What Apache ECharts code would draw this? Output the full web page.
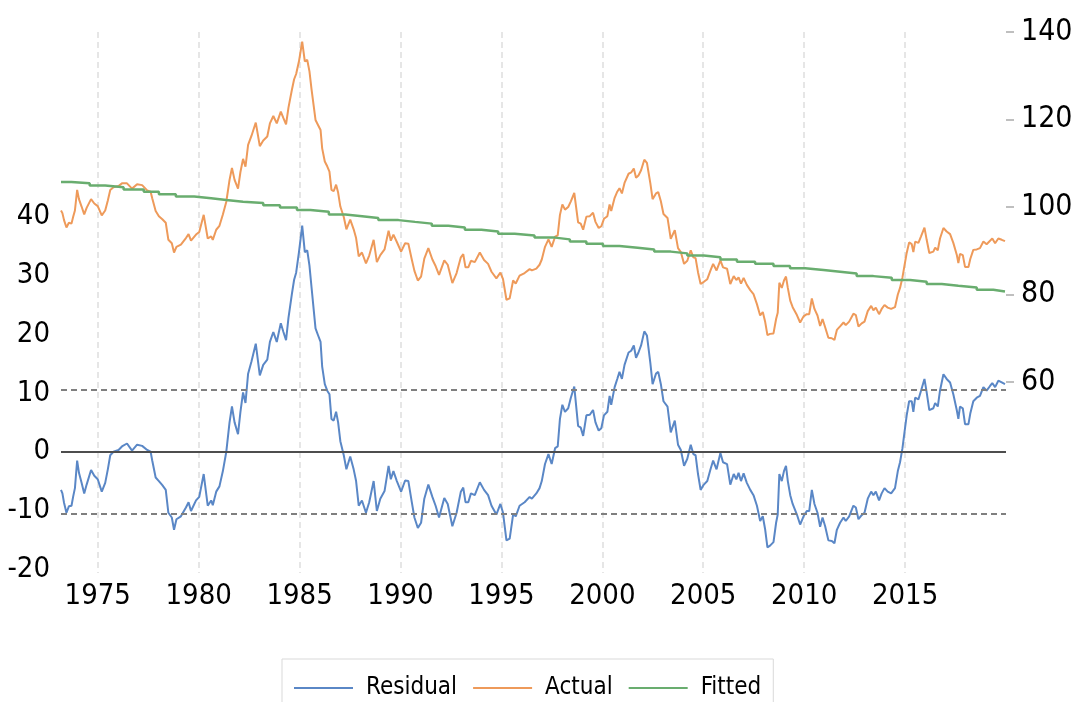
<!DOCTYPE html>
<html>
<head>
<meta charset="utf-8">
<script src="https://cdn.jsdelivr.net/npm/echarts@6/dist/echarts.min.js"></script>
<style>
  html, body { margin: 0; padding: 0; background: #fff; }
  #main { width: 1071px; height: 702px; }
</style>
</head>
<body>
<div id="main"></div>
<script>
// dates in decimal years, shared by Residual and Actual
var dates = [
  1973.18,1973.25,1973.33,1973.45,1973.57,1973.70,1973.78,1973.87,1973.98,1974.07,1974.20,1974.33,1974.45,1974.67,1974.83,
  1975.00,1975.20,1975.37,1975.50,1975.62,1975.78,1976.03,1976.20,1976.45,1976.70,1976.95,1977.20,1977.45,1977.62,1977.70,1977.87,
  1978.03,1978.20,1978.37,1978.50,1978.67,1978.78,1978.90,1979.12,1979.37,1979.50,1979.62,1979.87,
  1980.03,1980.25,1980.45,1980.62,1980.70,1980.87,1981.03,1981.20,1981.37,1981.53,1981.65,1981.78,1981.95,
  1982.07,1982.20,1982.32,1982.45,1982.62,1982.83,1983.03,1983.20,1983.40,1983.53,1983.70,1983.87,
  1984.07,1984.20,1984.33,1984.45,1984.62,1984.73,1984.83,1984.97,
  1985.13,1985.26,1985.38,1985.49,1985.59,1985.67,1985.79,1985.92,1986.04,1986.12,1986.25,1986.37,1986.48,1986.58,1986.69,1986.81,1986.91,
  1987.02,1987.19,1987.32,1987.51,1987.68,1987.80,1987.93,1988.09,1988.29,1988.45,1988.67,1988.83,
  1989.00,1989.21,1989.41,1989.52,1989.65,1989.82,1990.03,1990.23,1990.39,1990.56,1990.69,1990.86,
  1991.02,1991.18,1991.38,1991.58,1991.74,1991.91,1992.17,1992.34,1992.57,1992.78,1992.99,
  1993.11,1993.22,1993.36,1993.49,1993.68,1993.93,1994.14,1994.34,1994.51,1994.75,1994.95,
  1995.08,1995.25,1995.41,1995.58,1995.71,1995.90,1996.15,1996.40,1996.51,1996.73,1996.89,
  1997.00,1997.16,1997.33,1997.49,1997.66,1997.79,1997.90,1998.02,1998.15,1998.31,1998.44,1998.61,1998.80,1998.93,
  1999.05,1999.21,1999.38,1999.54,1999.66,1999.82,1999.95,2000.08,2000.25,2000.36,2000.44,2000.61,2000.74,2000.85,2000.97,
  2001.10,2001.30,2001.43,2001.56,2001.67,2001.79,2001.92,2002.08,2002.21,2002.38,2002.49,2002.66,2002.77,2002.90,
  2003.03,2003.23,2003.39,2003.59,2003.75,2003.89,2004.05,2004.21,2004.38,2004.51,2004.62,2004.74,2004.87,
  2005.03,2005.20,2005.36,2005.49,2005.66,2005.85,2005.98,2006.18,2006.34,2006.51,2006.64,2006.75,2006.87,
  2007.00,2007.16,2007.33,2007.49,2007.66,2007.82,2007.95,2008.07,2008.18,2008.31,2008.48,2008.61,2008.69,2008.77,2008.89,
  2009.00,2009.10,2009.19,2009.31,2009.43,2009.64,2009.80,2009.97,2010.13,2010.25,2010.38,2010.51,2010.66,2010.79,2010.91,
  2011.04,2011.20,2011.37,2011.50,2011.62,2011.78,2011.95,2012.06,2012.23,2012.44,2012.56,2012.69,2012.85,2012.99,
  2013.15,2013.32,2013.43,2013.55,2013.71,2013.84,2013.98,2014.14,2014.31,2014.50,2014.64,2014.75,2014.87,2014.97,
  2015.08,2015.20,2015.33,2015.41,2015.50,2015.66,2015.79,2015.96,2016.07,2016.20,2016.40,2016.49,2016.62,2016.73,2016.90,
  2017.06,2017.23,2017.39,2017.56,2017.64,2017.72,2017.86,2017.97,2018.14,2018.23,2018.38,2018.55,2018.71,2018.88,
  2019.04,2019.21,2019.32,2019.46,2019.62,2019.79,2019.95
];

var residual = [
  -6.5,-7.1,-8.7,-10.4,-9.3,-9.2,-7.7,-6.2,-1.5,-3.6,-5.3,-7.1,-5.6,-3.1,-4.1,
  -4.7,-6.8,-5.3,-3.0,-0.6,0.0,0.3,0.9,1.4,0.2,1.2,1.0,0.3,0.0,-1.5,-4.4,
  -5.0,-5.7,-6.5,-10.4,-11.2,-13.3,-11.5,-11.0,-9.5,-8.6,-10.1,-8.3,
  -7.7,-3.8,-9.2,-8.3,-9.1,-6.8,-5.9,-3.3,0.0,5.0,7.7,5.0,3.0,
  6.8,10.1,8.3,13.3,15.4,18.4,13.0,14.8,15.7,18.7,20.4,18.7,
  21.9,20.4,19.0,22.8,26.9,29.3,30.5,34.0,
  38.5,34.0,34.3,31.7,28.1,28.4,21.0,19.8,18.7,14.5,11.5,10.4,9.8,5.6,5.3,6.8,5.0,
  1.8,-0.6,-3.0,-0.8,-3.0,-5.0,-9.2,-8.3,-10.4,-8.6,-5.0,-10.1,
  -8.0,-6.7,-2.4,-4.7,-3.3,-5.0,-6.8,-4.9,-5.0,-8.6,-11.2,-13.0,
  -12.1,-8.0,-5.6,-7.7,-9.2,-11.2,-7.9,-8.9,-12.7,-10.4,-6.8,
  -6.1,-8.6,-8.6,-7.1,-7.4,-5.2,-6.5,-7.4,-9.2,-10.7,-8.9,
  -10.4,-15.1,-14.8,-10.7,-11.0,-9.2,-8.6,-7.7,-8.0,-7.1,-6.2,
  -5.0,-2.1,-0.4,-2.1,0.6,0.9,5.6,8.0,6.8,7.4,9.2,11.1,4.4,4.1,
  2.7,6.2,6.3,7.1,5.0,3.6,4.0,6.2,6.8,9.5,8.0,11.0,12.4,13.6,12.4,
  14.8,16.9,17.2,18.1,16.0,16.9,18.1,20.5,19.8,15.1,11.5,13.3,13.6,11.5,
  8.6,7.7,3.3,5.3,1.2,0.3,-2.4,-1.2,1.2,-0.4,-0.6,-3.8,-6.5,
  -5.6,-5.0,-3.0,-1.5,-3.0,-0.2,-1.8,-2.1,-5.6,-3.8,-4.7,-3.6,-5.0,
  -3.7,-5.3,-6.5,-7.4,-9.2,-11.8,-11.0,-13.3,-16.3,-16.0,-15.4,-12.1,-10.7,-3.8,-5.0,
  -3.3,-2.4,-5.0,-7.4,-8.9,-10.7,-12.4,-11.0,-10.1,-10.1,-6.5,-8.9,-10.4,-12.8,-11.2,
  -12.7,-15.1,-15.2,-15.6,-13.3,-12.1,-11.2,-11.8,-11.0,-9.2,-9.5,-11.5,-10.8,-10.4,
  -8.0,-6.8,-7.4,-6.8,-8.3,-7.1,-6.2,-6.8,-7.1,-6.2,-3.3,-1.8,0.6,3.3,
  6.2,8.6,8.6,6.8,9.2,8.9,10.4,12.4,10.1,7.1,7.4,8.3,7.7,10.4,13.2,
  12.4,11.8,9.8,7.1,5.6,7.7,7.4,4.7,4.7,6.5,8.6,9.2,9.5,11.0,
  10.4,11.2,11.7,11.0,12.1,11.8,11.5
];

var actual = [
  99.2,98.6,97.0,95.3,96.4,96.2,97.7,99.2,103.9,101.8,100.1,98.3,99.8,101.8,100.8,
  100.2,98.1,99.2,101.5,103.9,104.5,104.8,105.4,105.4,104.2,105.2,105.0,103.8,103.5,102.0,99.1,
  97.9,97.2,96.4,92.5,91.7,89.6,90.9,91.4,92.9,93.8,92.3,93.7,
  94.3,98.2,92.8,93.3,92.5,94.8,95.7,98.3,101.2,106.2,108.9,106.2,104.2,
  108.0,111.0,109.2,114.2,116.3,119.3,113.9,115.2,116.1,119.1,120.8,119.1,
  121.8,120.3,118.9,122.7,126.8,129.2,130.4,133.3,
  137.8,133.3,133.6,131.0,127.0,127.3,119.9,118.7,117.6,113.4,110.4,109.3,108.1,103.9,103.6,105.1,103.3,
  100.1,97.7,94.9,97.1,94.9,92.9,88.7,89.6,87.1,88.9,92.5,87.4,
  89.0,90.3,94.6,92.3,93.7,92.0,89.8,91.7,91.6,88.0,85.4,83.2,
  84.1,88.2,90.6,88.0,86.5,84.5,87.8,86.8,82.6,84.9,88.5,
  89.2,86.2,86.2,87.7,87.4,89.6,87.9,87.0,85.2,83.7,85.0,
  83.5,78.8,79.1,83.2,82.5,84.3,84.9,85.8,85.5,85.9,86.8,
  88.0,90.9,92.6,90.9,93.2,93.5,98.2,100.6,99.4,100.0,101.3,103.2,96.5,96.2,
  94.8,97.8,97.9,98.7,96.6,95.2,95.6,97.3,97.9,100.6,99.1,102.1,103.5,104.3,103.1,
  105.5,107.6,107.9,108.8,106.7,107.2,108.4,110.8,110.1,105.4,101.8,103.1,103.4,101.3,
  98.4,97.5,92.7,94.7,90.6,89.7,87.0,87.7,90.1,88.5,88.3,85.1,82.4,
  82.9,83.5,85.5,87.0,85.5,87.8,86.2,85.9,82.4,84.2,83.3,83.9,82.5,
  83.8,82.2,81.0,80.1,77.8,75.2,76.0,73.7,70.7,71.0,71.1,74.4,75.8,82.7,81.5,
  83.2,84.1,81.5,78.6,77.1,75.3,73.6,75.0,75.5,75.5,79.1,76.7,75.2,72.8,74.4,
  72.5,70.1,70.0,69.6,71.9,72.7,73.6,73.0,73.8,75.6,75.3,72.7,73.4,73.8,
  76.2,77.4,76.4,77.0,75.5,76.7,77.6,77.0,76.7,77.1,80.0,81.5,83.9,86.6,
  89.5,91.9,91.5,89.7,92.1,91.8,93.3,95.3,92.5,89.5,89.8,90.7,90.1,92.8,95.2,
  94.4,93.8,91.8,89.1,87.2,89.3,89.0,86.3,86.3,88.1,90.2,90.3,90.6,92.1,
  91.5,92.3,92.8,91.7,92.8,92.5,92.2
];

// fitted trend: value holds from each start date until the next one
var fitDates = [
  1973.18,1973.70,1974.60,1975.37,1976.28,1977.28,1978.03,1978.87,1979.78,1980.62,1981.37,1982.20,1983.20,1984.03,1984.87,
  1985.54,1986.45,1987.27,1988.10,1988.90,1989.90,1990.72,1991.55,1992.37,1993.19,1994.01,1994.84,1995.66,1996.64,
  1997.66,1998.39,1999.21,2000.03,2000.85,2001.75,2002.57,2003.39,2004.21,2005.03,2005.85,2006.67,2007.57,2008.48,
  2009.30,2010.05,2010.96,2011.78,2012.60,2013.43,2014.34,2015.25,2016.07,2016.82,2017.64,2018.55,2019.37,2019.95
];
var fitted = [
  105.7,105.4,104.9,104.5,104.0,103.5,102.9,102.4,102.0,101.6,101.2,100.9,100.4,99.9,99.3,
  98.9,98.3,97.9,97.5,97.0,96.6,96.2,95.7,95.3,94.8,94.4,93.9,93.5,93.0,
  92.6,92.1,91.6,91.1,90.7,90.3,89.8,89.4,88.9,88.5,88.0,87.5,87.0,86.5,
  86.0,85.6,85.2,84.8,84.2,83.8,83.3,82.9,82.4,82.0,81.6,81.1,80.7,80.7
];

var yearTicks = [1975, 1980, 1985, 1990, 1995, 2000, 2005, 2010, 2015];
var leftTicks = [-20, -10, 0, 10, 20, 30, 40];
var rightTicks = [60, 80, 100, 120, 140];
var bandLines = [10.6, -10.6];

var FONT = "'DejaVu Sans Condensed', 'Liberation Sans', sans-serif";

function pairs(xs, ys) {
    var out = [];
    for (var i = 0; i < xs.length; i++) {
        out.push([xs[i], ys[i]]);
    }
    return out;
}

var myChart = echarts.init(document.getElementById('main'));

var option = {
    animation: false,
    backgroundColor: '#fff',
    grid: {
        left: 61,
        right: 65,
        top: 32,
        bottom: 129,
        containLabel: false,
        outerBoundsMode: 'none'
    },
    legend: {
        left: 282,
        top: 659,
        padding: [17, 12, 40, 12],
        icon: 'rect',
        itemWidth: 59,
        itemHeight: 2,
        itemGap: 16,
        borderColor: '#d9d9d9',
        borderWidth: 1,
        data: ['Residual', 'Actual', 'Fitted'],
        textStyle: {
            fontFamily: FONT,
            fontSize: 24,
            color: '#000',
            padding: [0, 0, 0, 8]
        }
    },
    xAxis: {
        type: 'value',
        min: 1973.18,
        max: 2020.0,
        axisLine: { show: false },
        axisTick: { show: false, customValues: yearTicks },
        splitLine: {
            show: true,
            lineStyle: { color: '#dedede', width: 1.5, type: [6, 4] }
        },
        axisLabel: {
            customValues: yearTicks,
            fontFamily: FONT,
            fontSize: 29,
            color: '#000',
            margin: 9,
            formatter: function (v) { return String(v); }
        }
    },
    yAxis: [
        {
            type: 'value',
            position: 'left',
            min: -20.66,
            max: 71.5,
            axisLine: { show: false },
            axisTick: { show: false },
            splitLine: { show: false },
            axisLabel: {
                customValues: leftTicks,
                fontFamily: FONT,
                fontSize: 29,
                color: '#000',
                margin: 11
            }
        },
        {
            type: 'value',
            position: 'right',
            min: 16.34,
            max: 140,
            axisLine: { show: false },
            axisTick: {
                show: true,
                customValues: rightTicks,
                length: 8,
                lineStyle: { color: '#bfbfbf', width: 2 }
            },
            splitLine: { show: false },
            axisLabel: {
                customValues: rightTicks,
                fontFamily: FONT,
                fontSize: 30,
                color: '#000',
                margin: 15
            }
        }
    ],
    series: [
        {
            name: 'Residual',
            type: 'line',
            yAxisIndex: 0,
            symbol: 'none',
            data: pairs(dates, residual),
            lineStyle: { color: '#5a87c6', width: 2 },
            itemStyle: { color: '#5a87c6' },
            markLine: {
                silent: true,
                symbol: 'none',
                label: { show: false },
                data: [
                    { yAxis: 0, lineStyle: { color: '#4d4d4d', width: 2, type: 'solid' } },
                    { yAxis: bandLines[0], lineStyle: { color: '#7f7f7f', width: 2, type: [6, 4] } },
                    { yAxis: bandLines[1], lineStyle: { color: '#7f7f7f', width: 2, type: [6, 4] } }
                ]
            }
        },
        {
            name: 'Actual',
            type: 'line',
            yAxisIndex: 1,
            symbol: 'none',
            data: pairs(dates, actual),
            lineStyle: { color: '#ee9a5a', width: 2 },
            itemStyle: { color: '#ee9a5a' }
        },
        {
            name: 'Fitted',
            type: 'line',
            yAxisIndex: 1,
            symbol: 'none',
            step: 'end',
            data: pairs(fitDates, fitted),
            lineStyle: { color: '#69ad6f', width: 2.5 },
            itemStyle: { color: '#69ad6f' }
        }
    ]
};
myChart.setOption(option);
</script>
</body>
</html>
